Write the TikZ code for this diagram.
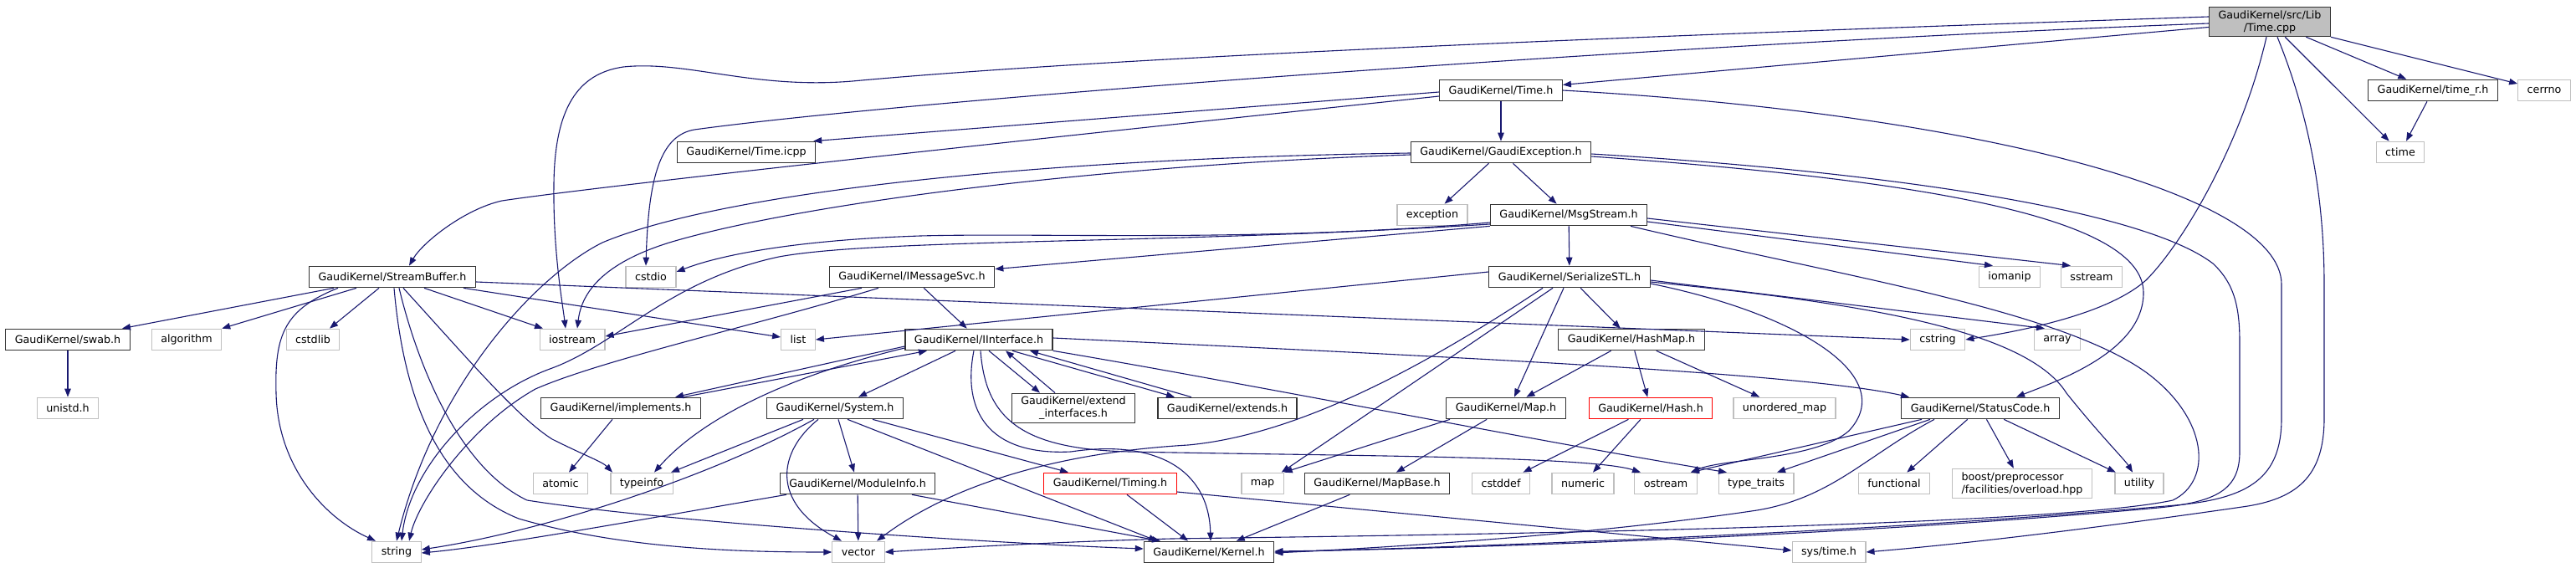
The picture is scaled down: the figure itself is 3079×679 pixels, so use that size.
\documentclass[tikz,border=0pt]{standalone}
\usepackage{fontspec}
\setmainfont{DejaVu Sans}
\usetikzlibrary{arrows.meta}
\definecolor{edgeblue}{HTML}{191970}
\definecolor{boxgray}{HTML}{BFBFBF}
\tikzset{
  box/.style={rectangle, inner xsep=11pt, inner ysep=4pt, minimum height=25.5pt,
    line width=1.2pt, fill=white, font=\fontsize{12.7}{15}\selectfont, align=center},
  hdr/.style={box, draw=black!80},
  sys/.style={box, draw=boxgray},
  trunc/.style={box, draw=red},
  dep/.style={draw=edgeblue, line width=1.1pt, -{Triangle[length=10pt,width=7.5pt]}},
}
\begin{document}
\begin{tikzpicture}[x=1pt,y=-1pt]
	\fill[white] (0,0) rectangle (3079,679);
	% files of the project
	\node[hdr, fill=boxgray] (root) at (2713,26) {GaudiKernel/src/Lib\\/Time.cpp};
	\node[hdr] (timeh) at (1794,108) {GaudiKernel/Time.h};
	\node[hdr] (timerh) at (2908,108) {GaudiKernel/time\_r.h};
	\node[hdr] (timeicpp) at (892,182) {GaudiKernel/Time.icpp};
	\node[hdr] (gexc) at (1794,182) {GaudiKernel/GaudiException.h};
	\node[hdr] (msgstream) at (1875,257) {GaudiKernel/MsgStream.h};
	\node[hdr] (streambuf) at (469,331) {GaudiKernel/StreamBuffer.h};
	\node[hdr] (imsgsvc) at (1090,331) {GaudiKernel/IMessageSvc.h};
	\node[hdr] (serstl) at (1876,331) {GaudiKernel/SerializeSTL.h};
	\node[hdr] (swab) at (81,406) {GaudiKernel/swab.h};
	\node[hdr] (iinterface) at (1170,406) {GaudiKernel/IInterface.h};
	\node[hdr] (hashmap) at (1950,406) {GaudiKernel/HashMap.h};
	\node[hdr] (implements) at (742,488) {GaudiKernel/implements.h};
	\node[hdr] (system) at (998,488) {GaudiKernel/System.h};
	\node[hdr] (extendif) at (1283,488) {GaudiKernel/extend\\\_interfaces.h};
	\node[hdr] (extends) at (1467,488) {GaudiKernel/extends.h};
	\node[hdr] (maph) at (1800,488) {GaudiKernel/Map.h};
	\node[trunc] (hash) at (1973,488) {GaudiKernel/Hash.h};
	\node[hdr] (statuscode) at (2367,488) {GaudiKernel/StatusCode.h};
	\node[hdr] (moduleinfo) at (1025,578) {GaudiKernel/ModuleInfo.h};
	\node[trunc] (timing) at (1327,578) {GaudiKernel/Timing.h};
	\node[hdr] (mapbase) at (1646,578) {GaudiKernel/MapBase.h};
	\node[hdr] (kernel) at (1445,660) {GaudiKernel/Kernel.h};
	% system headers
	\node[sys] (cerrno) at (3041,108) {cerrno};
	\node[sys] (ctime) at (2869,182) {ctime};
	\node[sys] (exception) at (1712,257) {exception};
	\node[sys] (cstdio) at (778,331) {cstdio};
	\node[sys] (iomanip) at (2402,331) {iomanip};
	\node[sys] (sstream) at (2500,331) {sstream};
	\node[sys] (algorithm) at (223,406) {algorithm};
	\node[sys] (cstdlib) at (374,406) {cstdlib};
	\node[sys] (iostream) at (684,406) {iostream};
	\node[sys] (list) at (954,406) {list};
	\node[sys] (cstring) at (2316,406) {cstring};
	\node[sys] (array) at (2459,406) {array};
	\node[sys] (unistd) at (81,488) {unistd.h};
	\node[sys] (unordered) at (2133,488) {unordered\_map};
	\node[sys] (atomic) at (670,578) {atomic};
	\node[sys] (typeinfo) at (767,578) {typeinfo};
	\node[sys] (map) at (1509,578) {map};
	\node[sys] (cstddef) at (1794,578) {cstddef};
	\node[sys] (numeric) at (1892,578) {numeric};
	\node[sys] (ostream) at (1991,578) {ostream};
	\node[sys] (typetraits) at (2099,578) {type\_traits};
	\node[sys] (functional) at (2264,578) {functional};
	\node[sys, align=left] (boost) at (2417,578) {boost/preprocessor\\/facilities/overload.hpp};
	\node[sys] (utility) at (2557,578) {utility};
	\node[sys] (string) at (474,660) {string};
	\node[sys] (vector) at (1026,660) {vector};
	\node[sys] (systime) at (2186,660) {sys/time.h};
	% Time.cpp
	\draw[dep] (root) -- (timeh);
	\draw[dep] (root) -- (timerh);
	\draw[dep] (root) -- (cerrno);
	\draw[dep] (root) -- (ctime);
	\draw[dep] ([xshift=-4pt]root.south) .. controls (2680,170) and (2610,290) .. (2565,335) .. controls (2520,375) and (2420,395) .. (cstring.east);
	\draw[dep] ([xshift=9pt]root.south) .. controls (2765,150) and (2778,250) .. (2778,340) -- (2778,500) .. controls (2778,570) and (2745,597) .. (2680,606) .. controls (2500,632) and (2350,650) .. (systime.east);
	\draw[dep] ([yshift=6pt]root.west) .. controls (2200,35) and (1400,62) .. (1019,97) .. controls (900,107) and (820,72) .. (745,80) .. controls (690,88) and (663,130) .. (662,220) .. controls (661,300) and (672,360) .. ([xshift=-8pt]iostream.north);
	\draw[dep] ([yshift=-2pt]root.west) .. controls (2000,52) and (1100,118) .. (830,155) .. controls (790,162) and (775,210) .. ([xshift=-6pt]cstdio.north);
	% Time.h
	\draw[dep] (timeh) -- (gexc);
	\draw[dep] ([yshift=-2pt]timeh.west) -- ([xshift=-3pt]timeicpp.north east);
	\draw[dep] ([yshift=-7pt]timeh.west) .. controls (1200,170) and (720,222) .. (600,240) .. controls (555,250) and (505,290) .. ([xshift=20pt]streambuf.north);
	\draw[dep] (timeh.east) .. controls (2350,135) and (2727,230) .. (2727,340) -- (2727,500) .. controls (2727,570) and (2690,596) .. (2600,604) .. controls (2200,640) and (1700,655) .. (kernel.east);
	\draw[dep] (timerh) -- (ctime);
	% GaudiException.h
	\draw[dep] (gexc) -- (exception);
	\draw[dep] (gexc) -- (msgstream);
	\draw[dep] ([yshift=-5pt]gexc.east) .. controls (2300,215) and (2562,260) .. (2562,350) .. controls (2562,420) and (2460,455) .. ([xshift=43pt]statuscode.north);
	\draw[dep] ([yshift=-2pt]gexc.east) .. controls (2250,205) and (2560,250) .. (2645,315) .. controls (2672,340) and (2677,370) .. (2677,410) -- (2677,540) .. controls (2677,585) and (2650,600) .. (2580,607) .. controls (2200,642) and (1700,657) .. ([yshift=1pt]kernel.east);
	\draw[dep] ([yshift=-3pt]gexc.west) .. controls (1300,198) and (950,245) .. (800,290) .. controls (720,315) and (695,350) .. ([xshift=6pt]iostream.north);
	\draw[dep] ([yshift=-1pt]gexc.west) .. controls (1200,190) and (850,235) .. (720,290) .. controls (640,330) and (520,460) .. (string.north);
	% MsgStream.h
	\draw[dep] (msgstream) -- (serstl);
	\draw[dep] (msgstream.south west) -- ([yshift=-4pt]imsgsvc.north east);
	\draw[dep] ([yshift=-9pt]msgstream.west) .. controls (1500,290) and (1250,278) .. (1100,282) .. controls (950,287) and (860,305) .. ([yshift=6pt]cstdio.east);
	\draw[dep] ([yshift=-11pt]msgstream.west) .. controls (1400,292) and (1050,285) .. (931,307) .. controls (800,335) and (740,410) .. (660,440) .. controls (570,472) and (490,560) .. ([xshift=6pt]string.north);
	\draw[dep] ([yshift=-8pt]msgstream.east) -- ([xshift=-20pt]iomanip.north);
	\draw[dep] ([yshift=-4pt]msgstream.east) -- ([xshift=-25pt]sstream.north);
	\draw[dep] ([xshift=74pt]msgstream.south) .. controls (2200,330) and (2460,370) .. (2565,445) .. controls (2640,500) and (2645,575) .. (2597,598) .. controls (2450,630) and (1700,640) .. (1400,644) .. controls (1250,648) and (1120,656) .. (vector.east);
	% IMessageSvc.h
	\draw[dep] (imsgsvc) -- (iinterface);
	\draw[dep] ([xshift=-60pt]imsgsvc.south) -- ([yshift=4pt]iostream.east);
	\draw[dep] ([xshift=-40pt]imsgsvc.south) .. controls (900,390) and (720,430) .. (640,465) .. controls (560,510) and (500,600) .. ([xshift=15pt]string.north);
	% SerializeSTL.h
	\draw[dep] ([yshift=6pt]serstl.west) -- (list.east);
	\draw[dep] (serstl) -- (hashmap);
	\draw[dep] ([xshift=-7pt]serstl.south) -- ([xshift=10pt]maph.north);
	\draw[dep] ([xshift=-20pt]serstl.south) -- ([xshift=-3pt]map.north east);
	\draw[dep] ([xshift=-32pt]serstl.south) .. controls (1700,440) and (1550,520) .. (1420,532) .. controls (1250,542) and (1130,585) .. ([xshift=22pt]vector.north);
	\draw[dep] ([yshift=-8pt]serstl.east) .. controls (2150,375) and (2270,450) .. (2210,515) .. controls (2170,550) and (2060,548) .. ([xshift=30pt]ostream.north);
	\draw[dep] ([yshift=-4pt]serstl.east) -- ([xshift=-15pt]array.north);
	\draw[dep] ([yshift=-6pt]serstl.east) .. controls (2200,360) and (2420,390) .. (2470,470) .. controls (2510,520) and (2540,550) .. ([xshift=-8pt]utility.north);
	% HashMap.h, Map.h, Hash.h
	\draw[dep] (hashmap) -- (maph);
	\draw[dep] (hashmap) -- (hash);
	\draw[dep] (hashmap) -- (unordered);
	\draw[dep] ([xshift=-67pt]maph.south) -- (map.north east);
	\draw[dep] (maph) -- (mapbase);
	\draw[dep] (mapbase) -- (kernel);
	\draw[dep] (hash) -- (cstddef);
	\draw[dep] (hash) -- (numeric);
	% StatusCode.h
	\draw[dep] ([xshift=-70pt]statuscode.south) -- ([xshift=30pt]ostream.north);
	\draw[dep] ([xshift=-60pt]statuscode.south) -- ([xshift=25pt]typetraits.north);
	\draw[dep] ([xshift=-55pt]statuscode.south) .. controls (2230,545) and (2190,595) .. (2100,610) .. controls (1900,640) and (1650,655) .. ([yshift=-1pt]kernel.east);
	\draw[dep] (statuscode) -- (functional);
	\draw[dep] (statuscode) -- (boost);
	\draw[dep] (statuscode) -- (utility);
	% IInterface.h
	\draw[dep] (iinterface) -- (system);
	\draw[dep] ([xshift=12pt]iinterface.south) -- ([xshift=-40pt]extendif.north);
	\draw[dep] ([xshift=-22pt]extendif.north) -- ([xshift=32pt]iinterface.south);
	\draw[dep] ([xshift=40pt]iinterface.south) -- ([xshift=-63pt]extends.north);
	\draw[dep] ([xshift=-43pt]extends.north) -- ([xshift=61pt]iinterface.south);
	\draw[dep] ([yshift=-8pt]iinterface.west) -- ([xshift=65pt]implements.north);
	\draw[dep] ([xshift=75pt]implements.north) -- ([xshift=-62pt]iinterface.south);
	\draw[dep] ([yshift=-10pt]iinterface.west) .. controls (920,455) and (830,510) .. ([xshift=15pt]typeinfo.north);
	\draw[dep] ([yshift=2pt]iinterface.east) .. controls (1700,425) and (2150,445) .. ([xshift=-85pt]statuscode.north);
	\draw[dep] (iinterface.south east) .. controls (1500,460) and (1850,530) .. ([xshift=-35pt]typetraits.north);
	\draw[dep] ([xshift=2pt]iinterface.south) .. controls (1178,500) and (1220,537) .. (1350,540) .. controls (1600,545) and (1900,545) .. ([xshift=-30pt]ostream.north);
	\draw[dep] ([xshift=-6pt]iinterface.south) .. controls (1150,490) and (1180,545) .. (1280,540) .. controls (1380,525) and (1445,560) .. ([xshift=2pt]kernel.north);
	\draw[dep] ([xshift=-10pt]implements.south) -- ([xshift=10pt]atomic.north);
	% System.h, ModuleInfo.h, Timing.h
	\draw[dep] ([xshift=-38pt]system.south) -- ([xshift=35pt]typeinfo.north);
	\draw[dep] ([xshift=-25pt]system.south) .. controls (850,570) and (650,635) .. ([yshift=3pt]string.east);
	\draw[dep] ([xshift=-20pt]system.south) .. controls (930,540) and (920,600) .. ([xshift=-20pt]vector.north);
	\draw[dep] (system) -- (moduleinfo);
	\draw[dep] ([xshift=15pt]system.south) -- ([xshift=-62pt]kernel.north);
	\draw[dep] ([xshift=45pt]system.south) -- ([xshift=-50pt]timing.north);
	\draw[dep] ([xshift=-85pt]moduleinfo.south) .. controls (800,615) and (600,652) .. ([yshift=-1pt]string.east);
	\draw[dep] (moduleinfo) -- (vector);
	\draw[dep] ([xshift=65pt]moduleinfo.south) -- ([xshift=-58pt]kernel.north);
	\draw[dep] ([xshift=20pt]timing.south) -- ([xshift=-25pt]kernel.north);
	\draw[dep] ([yshift=-10pt]timing.east) -- ([yshift=2pt]systime.west);
	% StreamBuffer.h
	\draw[dep] ([xshift=-70pt]streambuf.south) -- ([xshift=65pt]swab.north);
	\draw[dep] ([xshift=-43pt]streambuf.south) -- (algorithm.north east);
	\draw[dep] ([xshift=-65pt]streambuf.south) .. controls (340,370) and (328,400) .. (330,470) .. controls (332,560) and (390,620) .. ([xshift=-25pt]string.north);
	\draw[dep] ([xshift=-16pt]streambuf.south) -- ([xshift=20pt]cstdlib.north);
	\draw[dep] ([xshift=2pt]streambuf.south) .. controls (482,470) and (520,580) .. (620,620) .. controls (750,658) and (900,660) .. (vector.west);
	\draw[dep] ([xshift=8pt]streambuf.south) .. controls (500,440) and (550,560) .. (630,598) .. controls (800,625) and (1200,650) .. ([yshift=4pt]kernel.west);
	\draw[dep] ([xshift=13pt]streambuf.south) .. controls (560,430) and (620,500) .. (660,525) .. controls (700,545) and (720,552) .. ([xshift=-35pt]typeinfo.north);
	\draw[dep] ([xshift=38pt]streambuf.south) -- ([xshift=-35pt]iostream.north);
	\draw[dep] ([xshift=85pt]streambuf.south) -- ([yshift=3pt]list.west);
	\draw[dep] ([yshift=-6pt]streambuf.east) -- (cstring.west);
	\draw[dep] (swab) -- (unistd);
\end{tikzpicture}
\end{document}
